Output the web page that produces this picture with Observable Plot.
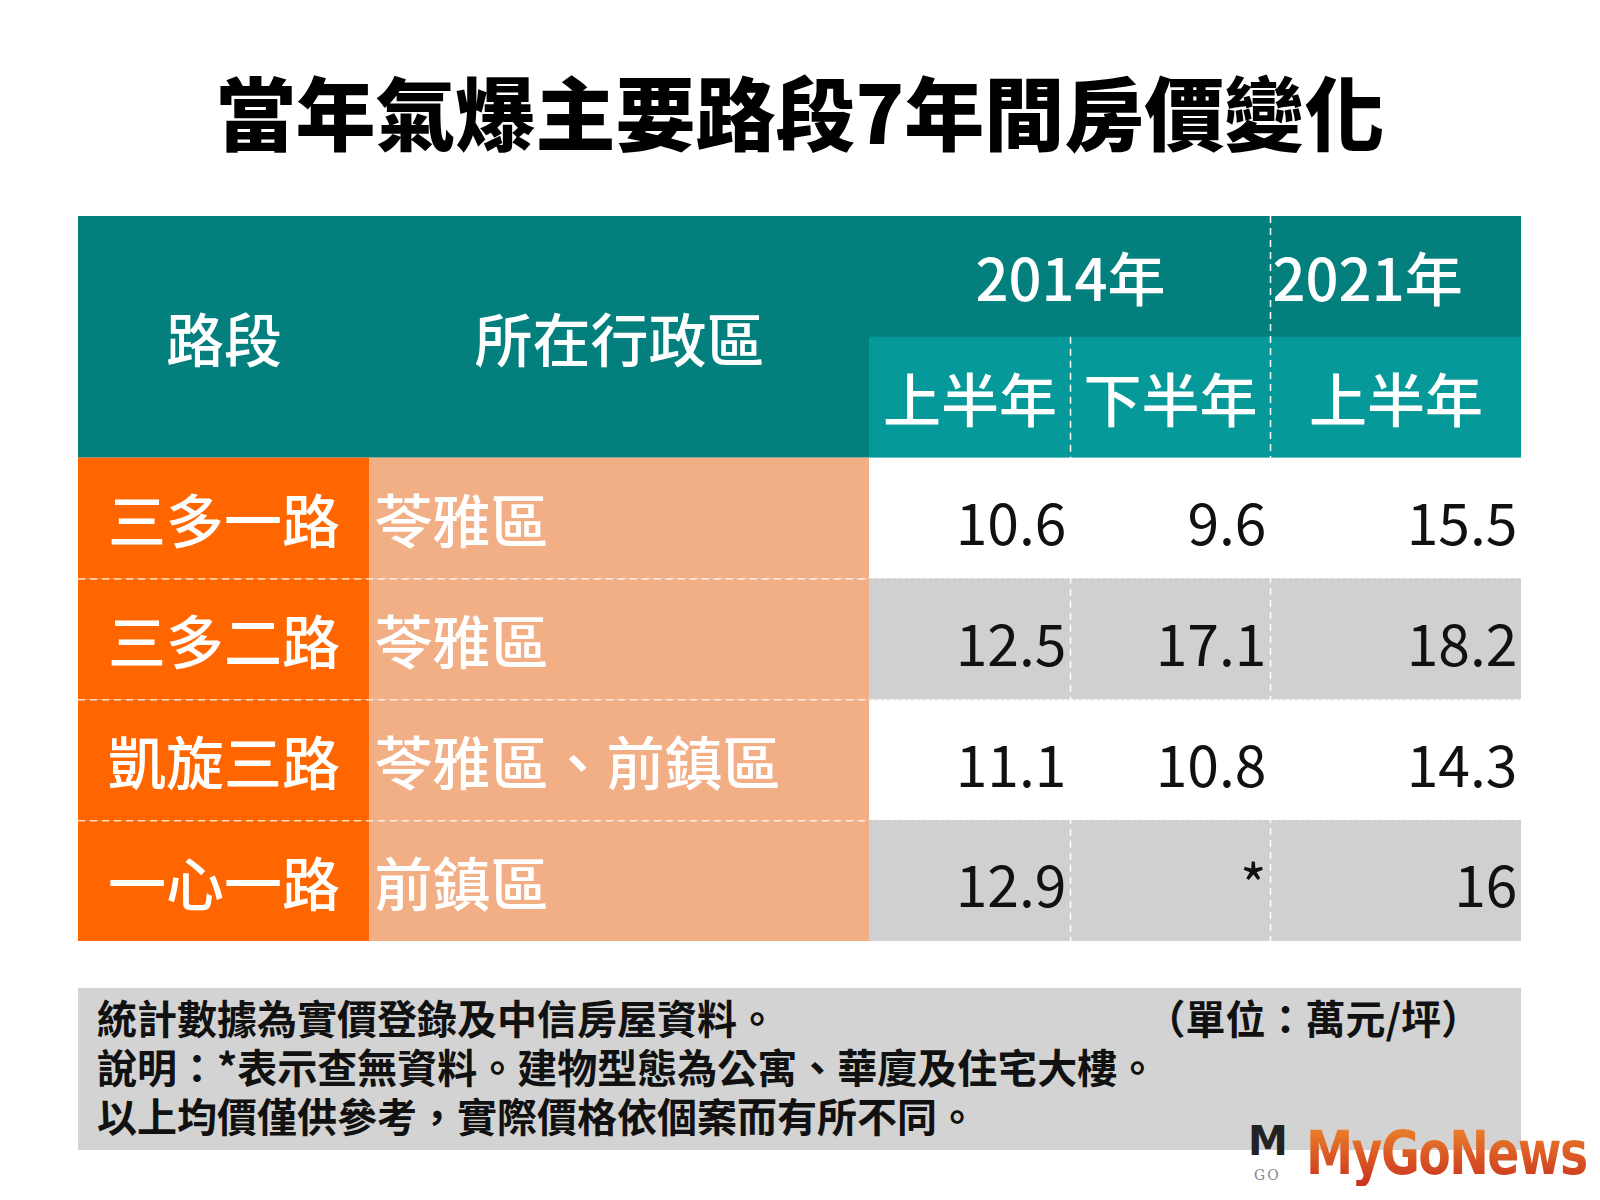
<!DOCTYPE html>
<html><head><meta charset="utf-8">
<script src="https://cdn.jsdelivr.net/npm/d3@7"></script>
<script src="https://cdn.jsdelivr.net/npm/@observablehq/plot@0.6"></script>
<style>
html,body{margin:0;padding:0;background:#fff;}
body{width:1600px;height:1200px;position:relative;overflow:hidden;font-family:"Noto Sans CJK TC","Noto Sans CJK SC",sans-serif;}
#title{position:absolute;left:0;top:0;width:1600px;height:218px;display:flex;align-items:center;justify-content:center;font-size:80px;font-weight:900;color:#000;line-height:1;}
#chart{position:absolute;left:0;top:216px;}
#notes{position:absolute;left:78px;top:988px;width:1443px;height:162px;background:#D3D3D3;box-sizing:border-box;padding:5px 0 0 19px;font-size:40px;font-weight:700;line-height:49px;color:#111;}
#notes .unit{position:absolute;right:40px;top:5px;}
#logo{position:absolute;left:1246px;top:1120px;height:66px;display:flex;align-items:center;}
#logo .icon{position:relative;width:50px;height:64px;margin-right:10px;}
#logo .icon .m{position:absolute;left:2px;top:-4px;font-family:"DejaVu Sans";font-size:40px;line-height:48px;font-weight:700;color:#222;}
#logo .icon .go{position:absolute;left:8px;top:46px;font-family:"DejaVu Serif";font-size:14px;line-height:16px;color:#888;letter-spacing:2px;}
#logo .word{display:inline-block;font-family:"DejaVu Sans";font-weight:700;font-size:60px;line-height:66px;letter-spacing:-2px;background:linear-gradient(#F08A2C,#C9301E);-webkit-background-clip:text;background-clip:text;color:transparent;transform:scaleX(0.79);transform-origin:left center;}
</style>
</head><body>
<div id="title"></div>
<div id="chart"></div>
<div id="notes"></div>
<div id="logo"><div class="icon"><span class="m">M</span><span class="go">GO</span></div><span class="word">MyGoNews</span></div>
<script>
// ---- data ----
const titleText = "當年氣爆主要路段7年間房價變化";
const colHeaders = ["路段", "所在行政區"];
const yearLabels = ["2014年", "2021年"];
const halfLabels = ["上半年", "下半年", "上半年"];
const roads = ["三多一路", "三多二路", "凱旋三路", "一心一路"];
const districts = ["苓雅區", "苓雅區", "苓雅區、前鎮區", "前鎮區"];
const price2014H1 = [10.6, 12.5, 11.1, 12.9];
const price2014H2 = [9.6, 17.1, 10.8, null];
const price2021H1 = [15.5, 18.2, 14.3, 16];
const missingMark = "*";
const noteLines = [
  "統計數據為實價登錄及中信房屋資料。",
  "說明：*表示查無資料。建物型態為公寓、華廈及住宅大樓。",
  "以上均價僅供參考，實際價格依個案而有所不同。"
];
const unitText = "（單位：萬元/坪）";

// ---- layout / style ----
const font = "Noto Sans CJK TC";
const C = {teal: "#037F7E", teal2: "#06999A", orange: "#FF6600", salmon: "#F2AE85", gray: "#D1D0D1", white: "#FFFFFF"};
const colEdges = [78, 369, 869, 1070, 1270, 1521]; // x range for column boundaries 0..5
const nHeaderRows = 2;
const nRows = nHeaderRows + roads.length;

document.getElementById("title").textContent = titleText;
const notes = document.getElementById("notes");
noteLines.forEach(t => { const d = document.createElement("div"); d.textContent = t; notes.appendChild(d); });
const u = document.createElement("span"); u.className = "unit"; u.textContent = unitText; notes.appendChild(u);

// ---- build table structures ----
const series = [price2014H1, price2014H2, price2021H1];
const bg = [];
bg.push({x1: 0, x2: 5, y1: 0, y2: 2, fill: C.teal});
bg.push({x1: 2, x2: 5, y1: 1, y2: 2, fill: C.teal2});
roads.forEach((r, i) => {
  const y = nHeaderRows + i;
  bg.push({x1: 0, x2: 1, y1: y, y2: y + 1, fill: C.orange});
  bg.push({x1: 1, x2: 2, y1: y, y2: y + 1, fill: C.salmon});
  bg.push({x1: 2, x2: 5, y1: y, y2: y + 1, fill: i % 2 ? C.gray : C.white});
});

const headerText = [
  ...colHeaders.map((t, j) => ({x: j + 0.5, y: 1, t})),
  {x: 2 + 0.5 * 2, y: 0.5, t: yearLabels[0]},
  ...halfLabels.map((t, j) => ({x: 2 + j + 0.5, y: 1.5, t}))
];
const yearRight = [{x: 4, y: 0.5, t: yearLabels[1]}];
const roadText = roads.map((t, i) => ({x: 0.5, y: nHeaderRows + i + 0.5, t}));
const distText = districts.map((t, i) => ({x: 1, y: nHeaderRows + i + 0.5, t}));
const valText = [];
series.forEach((s, j) => s.forEach((v, i) => valText.push({x: 3 + j, y: nHeaderRows + i + 0.5, t: v == null ? missingMark : String(v)})));

const rowLines = d3.range(nHeaderRows + 1, nRows).map(y => ({y}));
const colLines = [{x: 3, y1: 1, y2: nRows}, {x: 4, y1: 0, y2: nRows}];

const chart = Plot.plot({
  width: 1600,
  height: 725,
  margin: 0,
  x: {type: "linear", domain: d3.range(colEdges.length), range: colEdges, axis: null},
  y: {type: "linear", domain: [0, nRows], range: [0, 725], axis: null},
  style: {background: "transparent", fontFamily: font},
  marks: [
    Plot.rect(bg, {x1: "x1", x2: "x2", y1: "y1", y2: "y2", fill: "fill"}),
    Plot.ruleY(rowLines, {y: "y", x1: 0, x2: 2, stroke: "#ffffff", strokeOpacity: 0.75, strokeWidth: 1.5, strokeDasharray: "7,5"}),
    Plot.ruleY(rowLines, {y: "y", x1: 2, x2: 5, stroke: "#bdbdbd", strokeOpacity: 0.6, strokeWidth: 1, strokeDasharray: "3,3"}),
    Plot.ruleX(colLines, {x: "x", y1: "y1", y2: "y2", stroke: "#ffffff", strokeWidth: 1.5, strokeDasharray: "7,5"}),
    Plot.text(headerText, {x: "x", y: "y", text: "t", fill: "#fff", fontSize: 58, fontWeight: 500, dy: 6}),
    Plot.text(yearRight, {x: "x", y: "y", text: "t", fill: "#fff", fontSize: 58, fontWeight: 500, dy: 6, textAnchor: "start", dx: 2}),
    Plot.text(roadText, {x: "x", y: "y", text: "t", fill: "#fff", fontSize: 58, fontWeight: 500, dy: 6}),
    Plot.text(distText, {x: "x", y: "y", text: "t", fill: "#fff", fontSize: 58, fontWeight: 500, dy: 6, textAnchor: "start", dx: 5}),
    Plot.text(valText, {x: "x", y: "y", text: "t", fill: "#111", fontSize: 57, fontWeight: 400, dy: 8, textAnchor: "end", dx: -4})
  ]
});
document.getElementById("chart").appendChild(chart);
</script>
</body></html>
